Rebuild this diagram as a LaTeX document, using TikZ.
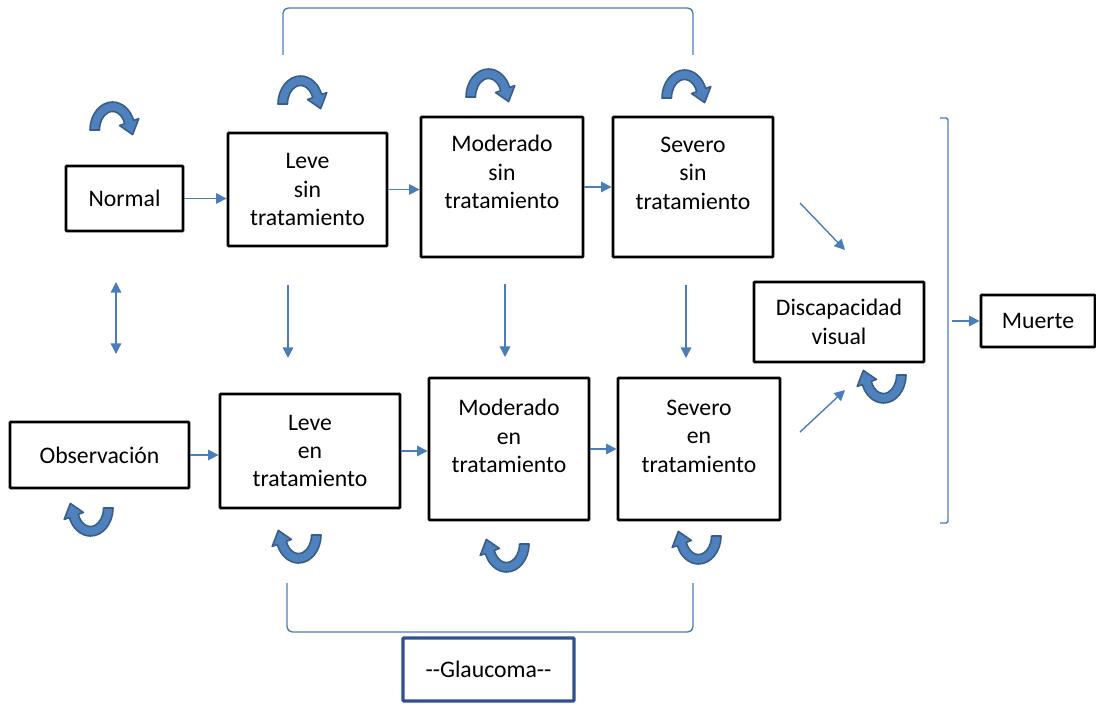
\documentclass[tikz,border=0pt]{standalone}
\usepackage{fontspec}
\setmainfont{Carlito}
\usetikzlibrary{arrows.meta}
\definecolor{flowblue}{HTML}{4A7EBB}
\definecolor{loopfill}{HTML}{4F81BD}
\definecolor{loopline}{HTML}{385D8A}
\definecolor{glauline}{HTML}{2F528F}
\tikzset{
  box/.style={draw, line width=1.6pt, rounded corners=0.5pt, align=center,
    font=\fontsize{13.5}{16.2}\selectfont, inner sep=0pt},
  boxtext/.style={align=center, font=\fontsize{13.5}{16.2}\selectfont, inner sep=0pt},
  flow/.style={draw=flowblue, line width=0.8pt, -{Triangle[length=6pt,width=6pt]}},
  flowboth/.style={draw=flowblue, line width=0.8pt,
    {Triangle[length=6pt,width=6pt]}-{Triangle[length=6pt,width=6pt]}},
  brace/.style={draw=flowblue, line width=0.8pt, rounded corners=3pt},
  loopicon/.pic={
    \filldraw[fill=loopfill, draw=loopline, line width=0.9pt, line join=round]
      (-0.45,0) arc[start angle=180, end angle=20, x radius=0.45, y radius=0.56]
      -- (0.526,0.229) -- (0.403,-0.092) -- (0.141,0.089) -- (0.244,0.127)
      arc[start angle=20, end angle=180, x radius=0.26, y radius=0.37] -- cycle;
  }
}
\begin{document}
\begin{tikzpicture}
\useasboundingbox (0,0) rectangle (21.92,-14.06);
% states without treatment
\node[box, minimum width=2.34cm, minimum height=1.30cm] (normal) at (2.49,-3.97) {Normal};
\node[box, minimum width=3.18cm, minimum height=2.26cm] (levesin) at (6.15,-3.79) {Leve\\sin\\tratamiento};
\node[box, minimum width=3.24cm, minimum height=2.80cm] (modsin) at (10.04,-3.74) {};
\node[boxtext] (modsintxt) at ([yshift=0.3cm]modsin) {Moderado\\sin\\tratamiento};
\node[box, minimum width=3.20cm, minimum height=2.80cm] (sevsin) at (13.86,-3.74) {};
\node[boxtext] (sevsintxt) at ([yshift=0.28cm]sevsin) {Severo\\sin\\tratamiento};
% states with treatment
\node[box, minimum width=3.58cm, minimum height=1.32cm] (obs) at (1.99,-9.10) {Observación};
\node[box, minimum width=3.60cm, minimum height=2.28cm] (leveen) at (6.20,-9.02) {Leve\\en\\tratamiento};
\node[box, minimum width=3.20cm, minimum height=2.84cm] (moden) at (10.18,-8.98) {};
\node[boxtext] (modentxt) at ([yshift=0.26cm]moden) {Moderado\\en\\tratamiento};
\node[box, minimum width=3.24cm, minimum height=2.84cm] (seven) at (13.98,-8.98) {};
\node[boxtext] (seventxt) at ([yshift=0.26cm]seven) {Severo\\en\\tratamiento};
% outcomes
\node[box, minimum width=3.40cm, minimum height=1.60cm] (disc) at (16.78,-6.44) {Discapacidad\\visual};
\node[box, minimum width=2.28cm, minimum height=1.04cm] (muerte) at (20.76,-6.42) {Muerte};
\node[box, draw=glauline, line width=1.8pt, minimum width=3.42cm, minimum height=1.26cm] (glauc) at (9.77,-13.39) {-{}-Glaucoma-{}-};

% transitions
\draw[flow] (normal.east) -- (normal.east -| levesin.west);
\draw[flow] (levesin.east) -- (levesin.east -| modsin.west);
\draw[flow] (modsin) -- (sevsin);
\draw[flow] (obs.east) -- (obs.east -| leveen.west);
\draw[flow] (leveen.east) -- (leveen.east -| moden.west);
\draw[flow] (moden) -- (seven);

\coordinate (dstop) at (2.32,-5.64);
\coordinate (dsbot) at (2.32,-7.08);
\draw[flowboth] (dstop) -- (dsbot);

\coordinate (v1a) at (5.76,-5.70);  \coordinate (v1b) at (5.76,-7.16);
\coordinate (v2a) at (10.10,-5.68); \coordinate (v2b) at (10.10,-7.14);
\coordinate (v3a) at (13.72,-5.70); \coordinate (v3b) at (13.72,-7.16);
\draw[flow] (v1a) -- (v1b);
\draw[flow] (v2a) -- (v2b);
\draw[flow] (v3a) -- (v3b);

\coordinate (d1a) at (16.00,-4.06); \coordinate (d1b) at (16.90,-5.00);
\coordinate (d2a) at (16.00,-8.64); \coordinate (d2b) at (16.90,-7.80);
\draw[flow] (d1a) -- (d1b);
\draw[flow] (d2a) -- (d2b);

% brackets
\draw[brace] (5.66,-1.10) -- (5.66,-0.16) -- (13.86,-0.16) -- (13.86,-1.10);
\draw[brace] (5.74,-11.66) -- (5.74,-12.64) -- (13.86,-12.64) -- (13.86,-11.66);
\draw[brace, rounded corners=1pt] (18.80,-2.36) -- (18.96,-2.36) -- (18.96,-10.46) -- (18.80,-10.46);
\coordinate (brmid) at (19.04,-6.42);
\draw[flow] (brmid) -- (muerte.west);

% staying in the same state
\pic at (2.25,-2.60) {loopicon};
\pic at (6.01,-2.08) {loopicon};
\pic at (9.77,-1.94) {loopicon};
\pic at (13.69,-1.96) {loopicon};
\pic[rotate=180] at (1.81,-10.16) {loopicon};
\pic[rotate=180] at (5.97,-10.70) {loopicon};
\pic[rotate=180] at (10.13,-10.88) {loopicon};
\pic[rotate=180] at (13.97,-10.72) {loopicon};
\pic[rotate=180] at (17.67,-7.50) {loopicon};
\end{tikzpicture}
\end{document}
